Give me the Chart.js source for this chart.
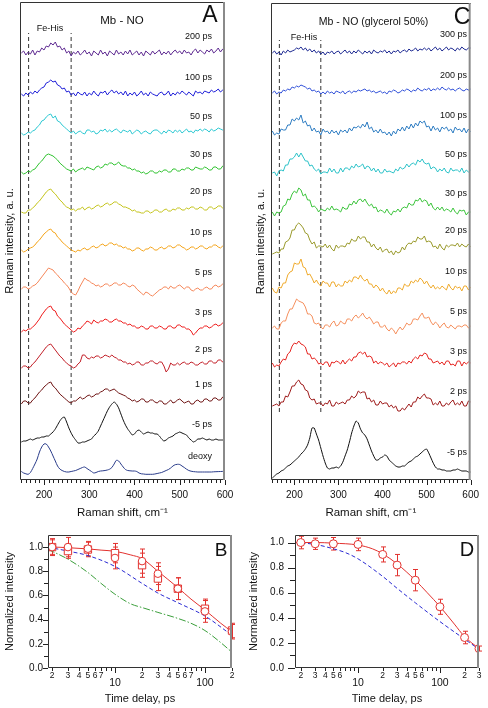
<!DOCTYPE html>
<html><head><meta charset="utf-8">
<script src="https://cdn.jsdelivr.net/npm/chart.js@4.4.1/dist/chart.umd.min.js"></script>
<style>
html,body{margin:0;padding:0;background:#fff;}
#wrap{position:relative;width:488px;height:708px;overflow:hidden;background:#fff;}
canvas{position:absolute;left:0;top:0;}
</style></head><body>
<div id="wrap">
<canvas id="cA" width="488" height="708"></canvas>
<canvas id="cC" width="488" height="708"></canvas>
<canvas id="cB" width="488" height="708"></canvas>
<canvas id="cD" width="488" height="708"></canvas>
</div>
<script>
const FONT = '"Liberation Sans", Arial, Helvetica, sans-serif';

// ---------- Raman spectra (panels A and C), Raman shift grid in cm-1 ----------
const SHIFT = [150,155,160,165,170,175,180,185,190,195, 200,205,210,215,220,225,230,235,240,245,
  250,255,260,265,270,275,280,285,290,295, 300,305,310,315,320,325,330,335,340,345,
  350,355,360,365,370,375,380,385,390,395, 400,405,410,415,420,425,430,435,440,445,
  450,455,460,465,470,475,480,485,490,495, 500,505,510,515,520,525,530,535,540,545,
  550,555,560,565,570,575,580,585,590,595, 600];
const SHIFT_TICKS = [200,300,400,500,600];
const SHIFT_MINOR = [150,160,170,180,190,210,220,230,240,250,260,270,280,290,310,320,330,340,350,360,370,380,390,410,420,430,440,450,460,470,480,490,510,520,530,540,550,560,570,580,590];
const FE_HIS = [166, 260];

// Panel A: Mb - NO
const A_LABELS = ['200 ps','100 ps','50 ps','30 ps','20 ps','10 ps','5 ps','3 ps','2 ps','1 ps','-5 ps','deoxy'];
const A_OFFSETS = [427,386,347,308,268,230,191,148,112,76,38,8];
const A_200 = [0,2,-2,1,-1,3,-2,2,1,5, 3,7,6,10,8,11,6,7,3,5, 0,2,-3,1,-1,2,-2,0,3,-1, 1,-3,2,0,-2,3,-1,1,-3,2,
  0,-2,3,-1,1,-2,2,-1,3,-2, 0,2,-2,1,-3,2,0,-2,2,-1, 1,3,-2,1,-1,2,-2,1,3,0, 2,-1,3,0,1,-2,2,4,0,3, 1,-1,3,1,4,0,2,5,1,4, 6];
const A_100 = [0,-2,1,-1,2,0,3,1,4,6, 7,11,12,14,12,13,9,8,5,6, 2,3,-1,1,-2,2,0,-1,2,-2, 1,-1,3,0,-2,2,1,3,-1,2,
  4,1,3,0,2,-1,3,-2,1,-1, 2,-2,0,3,-1,1,-2,2,0,-1, -2,1,2,-1,0,3,-2,1,-1,2, 0,3,1,-1,2,0,-2,3,1,2, 0,3,2,1,4,2,3,5,2,4, 6];
const A_50 = [0,-2,-1,1,0,2,3,6,8,12, 13,16,18,19,15,17,12,11,8,6, 4,2,0,2,-1,1,2,0,-1,3, 3,1,2,-1,0,3,2,4,1,3,
  1,3,4,2,0,3,2,1,3,-1, 1,3,2,-1,1,2,0,-1,2,3, 3,1,-1,2,0,3,2,0,3,1, 3,0,2,4,1,2,0,3,2,4, 2,4,3,1,4,2,3,5,4,3, 5];
const A_30 = [0,-2,-1,1,0,2,3,6,9,11, 14,17,18,17,16,14,12,9,7,5, 3,2,1,3,0,2,3,4,2,5, 4,3,2,5,6,4,5,8,7,9,
  9,7,8,10,7,6,6,4,4,2, 3,1,1,-1,0,-2,-1,1,1,-1, -1,1,0,2,2,0,0,3,3,1, 1,3,2,4,4,2,2,5,4,3, 3,5,4,2,2,5,5,3,3,6, 5];
const A_20 = [0,-1,-1,2,2,4,6,9,11,14, 17,20,22,23,20,18,15,12,10,7, 5,4,2,3,1,3,3,5,2,4, 5,3,4,6,7,5,6,8,9,7,
  8,10,10,8,7,5,5,4,3,1, 2,0,0,-1,-1,1,1,-1,0,2, 2,0,0,2,3,1,1,3,2,4, 4,2,2,4,3,5,5,3,3,5, 4,2,2,5,5,3,4,6,6,4, 5];
const A_10 = [0,-2,-1,1,2,3,5,8,10,13, 16,18,20,21,18,17,13,11,8,6, 4,2,0,-1,-2,0,-1,1,2,0, 1,3,4,2,3,5,6,4,5,7,
  7,5,6,4,4,2,3,1,1,-1, 0,2,2,0,-1,1,1,3,2,0, 0,2,3,1,2,4,4,2,3,5, 5,3,2,0,1,3,3,1,2,4, 4,2,1,3,3,5,5,3,2,4, 6];
const A_5 = [0,2,2,0,1,3,4,6,9,12, 15,18,21,20,19,16,14,11,9,6, 4,1,-3,-5,-6,-2,3,7,11,9, 8,6,5,3,4,2,3,5,5,3,
  4,6,6,4,4,6,5,3,2,4, 3,0,-2,-4,-6,-3,-4,-6,-7,-5, -3,-1,0,2,2,0,3,1,1,3, 4,2,0,2,2,-1,-2,0,1,-1, -1,1,2,0,0,3,4,2,3,5, 5];
const A_3 = [0,2,1,3,3,5,7,10,13,17, 20,23,25,26,22,21,16,14,11,8, 6,4,2,0,1,4,3,6,8,11, 10,8,12,10,9,11,11,13,12,10,
  10,12,13,11,11,9,9,7,8,6, 6,4,4,6,5,3,3,6,6,4, 4,6,5,3,3,6,6,4,4,7, 7,5,5,3,3,1,-3,-1,2,4, 4,6,6,4,5,7,8,6,7,9, 8];
const A_2 = [0,2,2,0,1,4,6,9,12,15, 18,21,23,24,21,18,15,12,10,7, 5,3,2,0,1,4,6,13,13,10, 9,11,10,12,12,10,11,13,12,11,
  13,11,10,8,8,6,6,4,5,3, 4,6,6,3,3,5,5,7,7,5, 4,6,6,2,-4,-1,5,3,3,5, 3,5,6,4,4,6,5,3,3,5, 6,4,4,7,7,5,5,8,8,6, 9];
const A_1 = [0,3,3,1,1,4,6,9,12,14, 17,19,21,22,18,16,13,10,8,6, 4,2,1,3,3,5,7,5,6,8, 9,7,8,10,10,12,13,15,15,13,
  14,15,13,11,10,9,8,6,5,3, 4,2,3,5,5,2,2,4,4,2, 1,3,3,0,0,2,4,1,2,4, 5,3,1,2,3,0,0,3,4,2, 2,5,5,3,3,6,6,4,4,7, 7];
const A_M5 = [0,1,1,2,3,2,3,4,4,5, 5,6,6,8,10,13,17,21,24,25, 20,14,9,5,2,-1,-1,0,0,1, 2,3,6,8,11,16,21,26,31,35,
  38,40,38,34,28,22,17,13,10,7, 8,11,12,10,8,9,10,9,9,8, 8,6,3,1,2,4,5,6,8,9, 10,9,8,7,4,2,0,1,3,3, 4,3,2,3,2,2,3,2,2,2, 2];
const A_DEOXY = [0.5,-1,-1.8,-2.3,-0.5,3.5,8,13,20,25, 28,28,25,21,16,11,6,3,1.5,0.5, 0,0,0.5,1,1.5,2.5,3.5,4.5,5,3.5,
  2,0.5,-1,-0.5,0.5,1,1.2,1.5,2,2.8, 4.5,8,11.7,11,8,5,2.5,1.5,1.2,1, 1,0.5,-1,-1.8,-2,-2.3,-2.3,-2.3,-2.3,-2,
  -1.5,-1,-0.5,0.5,1.5,2.5,4,6,7.3,7.7, 7.5,6,4.5,2.8,1.5,0.8,0.4,0.2,0,0, 0,0,0,0,0,0.2,0.3,0.4,0.5,0.6, 0.7];
const A_COLORS = ['#5e2a91','#1f1fd8','#2cc8d2','#2fc22f','#c4c41c','#f4a41a','#f5875a','#ee1c1c','#c21f28','#6e1313','#111111','#2a3c8a'];

// Panel C: Mb - NO (glycerol 50%)
const C_LABELS = ['300 ps','200 ps','100 ps','50 ps','30 ps','20 ps','10 ps','5 ps','3 ps','2 ps','-5 ps'];
const C_OFFSETS = [427,387,347,308,267,228,190,153,115,75,2];
const C_300 = [0,2,-1,1,-2,2,0,3,1,2, 3,5,4,6,3,5,2,4,1,3, 0,2,-1,1,-2,1,0,2,-1,1, 2,-1,1,3,0,2,-1,2,0,3,
  1,-1,2,0,2,-1,3,1,0,2, 1,3,0,2,-1,2,1,3,0,2, 3,1,4,2,3,5,2,4,3,5, 3,5,2,4,6,3,5,2,4,6, 3,5,4,2,5,3,6,4,3,5, 5];
const C_200 = [0,2,-1,1,0,3,2,4,3,6, 5,7,6,8,7,6,4,5,2,3, 1,2,-1,1,-1,2,0,1,-1,2, 1,0,2,-1,1,2,0,2,1,3,
  2,3,4,2,3,1,2,0,1,2, 0,1,-1,2,1,3,2,0,1,3, 2,4,3,1,3,2,5,3,2,4, 3,5,2,4,3,5,3,6,4,3, 5,3,4,2,4,5,3,2,4,3, 4];
const C_100 = [2,-2,0,-1,4,3,3,8,8,14, 12,15,13,18,10,12,7,8,2,5, 1,2,-2,4,1,2,-1,3,0,2, -2,3,1,3,0,5,2,6,5,7,
  5,9,6,11,4,6,1,3,0,4, 0,1,-2,1,-3,2,-1,4,2,6, 2,7,4,9,5,10,7,12,10,12, 6,7,2,7,3,5,1,6,4,6, 2,4,0,6,3,4,1,5,0,4, 1];
const C_50 = [-1,0,-4,1,2,1,7,7,13,13, 15,19,15,19,15,11,11,6,7,3, 1,3,-2,0,0,-1,4,0,3,-1, -1,4,0,4,4,2,6,4,8,5,
  6,8,3,6,5,1,4,0,3,-1, -1,3,0,1,0,-1,3,1,5,3, 4,8,5,8,9,7,12,10,13,9, 8,9,3,5,4,0,3,1,4,0, -1,4,1,2,2,0,4,-1,2,0, 2];
const C_30 = [1,-3,1,0,1,7,8,14,13,19, 22,20,25,23,17,19,13,13,6,7, 5,1,4,3,2,5,3,7,3,4, 3,1,6,4,4,9,8,12,9,13,
  14,11,14,10,7,9,5,6,1,3, 2,0,4,0,-2,2,1,4,1,5, 6,5,10,8,8,13,12,15,11,13, 12,7,10,5,3,6,3,6,2,4, 3,1,5,1,-1,3,2,3,-2,1, 1];
const C_20 = [-2,-1,0,-1,3,3,10,11,14,22, 22,27,29,27,24,19,18,12,8,10, 4,6,6,5,8,4,7,3,1,7, 4,6,6,5,9,8,13,11,11,16,
  13,15,15,10,10,5,8,4,2,5, 0,2,3,-1,1,-3,1,-1,0,5, 2,7,9,8,11,10,15,13,13,16, 10,11,10,5,6,3,8,4,2,7, 5,7,7,6,9,5,8,6,5,8, 5];
const C_10 = [2,-2,-3,3,2,7,7,15,18,19, 27,26,26,31,23,22,15,16,12,7, 10,6,4,9,7,7,3,8,8,3, 6,4,4,9,7,10,8,13,13,11,
  15,11,9,11,6,6,2,5,3,-1, 2,-2,-4,0,-4,-1,-3,2,2,0, 6,4,4,9,7,10,8,12,10,6, 9,5,2,5,1,3,1,4,2,0, 6,2,0,4,2,3,-1,4,4,0, 3];
const C_5 = [-1,1,-2,-2,4,6,6,13,18,18, 23,28,26,25,24,20,13,13,11,4, 3,4,0,-2,2,2,0,4,6,1, 2,6,4,3,8,8,6,10,12,9,
  11,14,10,8,10,7,3,5,5,0, 0,2,-2,-4,-1,-3,-7,-3,0,-3, 0,4,2,3,8,8,7,11,14,9, 9,10,5,2,5,3,-1,2,4,0, -1,2,0,-2,1,1,0,2,2,-1, 1];
const C_3 = [2,-2,0,-1,3,6,5,11,13,19, 22,21,24,21,20,18,11,11,6,7, 5,1,2,0,3,3,-2,3,2,4, 3,1,5,1,4,6,4,8,8,12,
  13,11,13,8,9,8,2,4,1,3, 2,0,2,-2,0,2,-2,2,1,3, 3,1,4,2,6,8,6,10,9,12, 11,6,6,2,3,4,1,3,0,4, 4,0,1,-1,4,4,-1,3,1,3, 2];
const C_2 = [-1,0,1,-1,3,3,9,8,13,19, 19,23,25,21,20,15,14,7,5,6, 1,2,2,-1,2,1,5,-1,-1,3, 1,2,3,1,5,5,9,7,9,14,
  12,13,13,6,7,3,5,0,0,4, 1,2,2,-2,0,-3,-1,-6,-6,-3, -5,-2,1,-2,3,3,8,6,9,11, 7,7,6,0,2,0,4,-1,-1,2, 0,3,5,0,2,0,4,-1,-1,4, 3];
const C_M5 = [0,2,4,5,7,8,10,12,13,15, 17,19,21,24,26,29,33,40,50,50, 44,38,30,22,15,10,9,10,10,11, 10,12,16,22,28,36,45,52,57,55,
  49,45,43,39,33,27,22,18,18,20, 21,23,22,18,16,14,12,11,11,12, 12,14,16,17,19,21,22,24,26,28, 29,25,20,15,11,9,9,8,8,7, 7,7,8,8,9,8,7,7,7,6, 6];
const C_COLORS = ['#1c2891','#3050d8','#2d7cc2','#2cc2c8','#3cc43c','#9a9a2c','#efaa2c','#f5905e','#e52420','#9e1a1a','#111111'];

// ---------- Kinetics (panels B and D) ----------
const B_T = [2,3,5,10,20,30,50,100,200];
const B_CIRCLE = [1.0,1.0,0.987,0.91,0.884,0.78,0.656,0.468,0.30];
const B_CIRCLE_ERR = [0.07,0.08,0.06,0.09,0.10,0.09,0.09,0.09,0.06];
const B_SQUARE = [1.0,0.967,0.98,0.95,0.85,0.74,0.656,0.49,0.31];
const B_SQUARE_ERR = [0.06,0.06,0.06,0.08,0.10,0.10,0.09,0.08,0.06];
const B_FIT_T = [1.8,2,3,5,7,10,15,20,30,50,70,100,150,200];
const B_FIT = [1.0,1.0,0.995,0.985,0.975,0.965,0.935,0.905,0.80,0.665,0.57,0.48,0.37,0.30];
const B_BLUE_T = [1.8,3,5,10,20,30,50,100,200];
const B_BLUE = [1.0,0.967,0.93,0.84,0.70,0.62,0.54,0.43,0.27];
const B_GREEN_T = [1.8,2,3,5,7,10,15,20,30,50,70,100,150,200];
const B_GREEN = [0.98,0.965,0.90,0.79,0.70,0.61,0.53,0.50,0.46,0.41,0.37,0.31,0.21,0.13];

const D_T = [2,3,5,10,20,30,50,100,200,300];
const D_CIRCLE = [1.0,0.99,0.99,0.985,0.905,0.82,0.70,0.488,0.243,0.155];
const D_CIRCLE_ERR = [0.05,0.045,0.05,0.05,0.06,0.085,0.085,0.06,0.05,0.02];
const D_FIT_T = [1.7,2,3,5,10,15,20,30,50,70,100,150,200,300];
const D_FIT = [1.0,1.0,1.0,0.995,0.98,0.95,0.91,0.83,0.70,0.60,0.49,0.35,0.25,0.155];
const D_BLUE_T = [1.7,3,5,7,10,20,30,50,100,200,300];
const D_BLUE = [1.0,0.985,0.95,0.92,0.87,0.73,0.635,0.52,0.37,0.23,0.15];

const Y_TICKS = [0,0.2,0.4,0.6,0.8,1.0];
const Y_MINOR = [0.1,0.3,0.5,0.7,0.9];
const B_XMINOR = [2,3,4,5,6,7,8,9,20,30,40,50,60,70,80,90,200];
const B_XMAJOR = [10,100];
const B_XMINOR_LABELS = [2,3,4,5,6,7,20,30,40,50,60,70,200];
const D_XMINOR = [2,3,4,5,6,7,8,9,20,30,40,50,60,70,80,90,200,300];
const D_XMAJOR = [10,100];
const D_XMINOR_LABELS = [2,3,4,5,6,20,30,40,50,60,200,300];

// ---------- helpers / plugins ----------
const RED = '#e2312e', BLUE = '#2a2ad2', GREEN = '#3a9e3a';

function framePlugin(rightColor, rightWidth) {
  return { id: 'frame', afterDatasetsDraw(chart) {
    const a = chart.chartArea, ctx = chart.ctx;
    ctx.save();
    ctx.strokeStyle = '#333'; ctx.lineWidth = 1;
    ctx.beginPath();
    ctx.moveTo(a.right, a.top + 0.5); ctx.lineTo(a.left + 0.5, a.top + 0.5);
    ctx.lineTo(a.left + 0.5, a.bottom - 0.5); ctx.lineTo(a.right, a.bottom - 0.5);
    ctx.stroke();
    ctx.strokeStyle = rightColor; ctx.lineWidth = rightWidth;
    ctx.beginPath(); ctx.moveTo(a.right - rightWidth / 2, a.top); ctx.lineTo(a.right - rightWidth / 2, a.bottom); ctx.stroke();
    ctx.restore();
  }};
}
function tickPlugin(marks) {
  return { id: 'tickMarks', afterDraw(chart) {
    const ctx = chart.ctx, a = chart.chartArea;
    ctx.save(); ctx.strokeStyle = '#222'; ctx.lineWidth = 1;
    marks.forEach(m => {
      const s = chart.scales[m.axis];
      m.values.forEach(v => {
        const p = Math.round(s.getPixelForValue(v)) + 0.5;
        ctx.beginPath();
        if (m.axis === 'x') { ctx.moveTo(p, a.bottom); ctx.lineTo(p, a.bottom + m.len); }
        else { ctx.moveTo(a.left, p); ctx.lineTo(a.left - m.len, p); }
        ctx.stroke();
      });
    });
    ctx.restore();
  }};
}
function textPlugin(items) {
  return { id: 'texts', afterDraw(chart) {
    const ctx = chart.ctx;
    ctx.save(); ctx.textBaseline = 'middle';
    items.forEach(it => {
      ctx.font = it.s + 'px ' + FONT;
      ctx.fillStyle = it.c || '#111';
      ctx.textAlign = it.a || 'center';
      ctx.fillText(it.t, it.x, it.y);
    });
    ctx.restore();
  }};
}
function logLabelPlugin(minorVals, majorVals) {
  return { id: 'logLabels', afterDraw(chart) {
    const ctx = chart.ctx, s = chart.scales.x, b = chart.chartArea.bottom;
    ctx.save(); ctx.textBaseline = 'middle'; ctx.textAlign = 'center'; ctx.fillStyle = '#111';
    ctx.font = '8.5px ' + FONT;
    minorVals.forEach(v => ctx.fillText(String(v).charAt(0), s.getPixelForValue(v), b + 8));
    ctx.font = '10.5px ' + FONT;
    majorVals.forEach(v => ctx.fillText(String(v), s.getPixelForValue(v), b + 15));
    ctx.restore();
  }};
}
const errorBarPlugin = { id: 'errorBars', beforeDatasetsDraw(chart) {
  const ctx = chart.ctx, ys = chart.scales.y;
  ctx.save(); ctx.strokeStyle = RED; ctx.lineWidth = 1;
  chart.data.datasets.forEach((ds, i) => {
    if (!ds.errorBars) return;
    const meta = chart.getDatasetMeta(i);
    meta.data.forEach((pt, j) => {
      const v = ds.data[j].y, e = ds.errorBars[j];
      const x = Math.round(pt.x) + 0.5, t = ys.getPixelForValue(v + e), bt = ys.getPixelForValue(v - e);
      ctx.beginPath();
      ctx.moveTo(x, t); ctx.lineTo(x, bt);
      ctx.moveTo(x - 2.5, t); ctx.lineTo(x + 2.5, t);
      ctx.moveTo(x - 2.5, bt); ctx.lineTo(x + 2.5, bt);
      ctx.stroke();
    });
  });
  ctx.restore();
}};

function spectrum(vals, off, color, tension) {
  return { data: SHIFT.map((x, i) => ({ x: x, y: vals[i] + off })), borderColor: color, borderWidth: 1,
           pointRadius: 0, tension: tension, fill: false };
}
function dashLine(x, y0, y1) {
  return { data: [{ x: x, y: y0 }, { x: x, y: y1 }], borderColor: '#333', borderWidth: 1, borderDash: [4, 3], pointRadius: 0, fill: false };
}
function xy(xs, ys) { return xs.map((x, i) => ({ x: x, y: ys[i] })); }

const baseOpts = { responsive: false, animation: false, events: [], maintainAspectRatio: false };
const noPlug = { legend: { display: false }, tooltip: { enabled: false } };

function spectraChart(id, spectra, offsets, colors, tensions, pad, ymax, dashY, texts) {
  const ds = spectra.map((s, i) => spectrum(s, offsets[i], colors[i], tensions[i] || 0));
  FE_HIS.forEach(x => ds.push(dashLine(x, dashY[0], dashY[1])));
  return new Chart(document.getElementById(id), {
    type: 'line',
    data: { datasets: ds },
    options: Object.assign({}, baseOpts, {
      layout: { padding: pad },
      plugins: noPlug,
      scales: {
        x: { type: 'linear', min: 147, max: 600,
             grid: { display: false, drawTicks: false }, border: { display: false },
             afterBuildTicks: s => { s.ticks = SHIFT_TICKS.map(v => ({ value: v })); },
             ticks: { font: { family: FONT, size: 10 }, color: '#111', padding: 9, maxRotation: 0, autoSkip: false },
             title: { display: true, text: 'Raman shift, cm⁻¹', font: { family: FONT, size: 11.5 }, color: '#111', padding: { top: 0, bottom: 0 } },
             afterFit: s => { s.height = 40; } },
        y: { min: 0, max: ymax,
             grid: { display: false, drawTicks: false }, border: { display: false },
             ticks: { display: false },
             title: { display: true, text: 'Raman intensity, a. u.', font: { family: FONT, size: 11 }, color: '#111', padding: { top: 3, bottom: 0 } },
             afterFit: s => { s.width = 20; } }
      }
    }),
    plugins: [framePlugin('#8a8a8a', 2), tickPlugin([{ axis: 'x', values: SHIFT_TICKS, len: 5 }, { axis: 'x', values: SHIFT_MINOR, len: 3 }]), textPlugin(texts)]
  });
}

// ---- Panel A ----
const A_SPECTRA = [A_200, A_100, A_50, A_30, A_20, A_10, A_5, A_3, A_2, A_1, A_M5, A_DEOXY];
const A_TENSION = [0,0,0,0,0,0,0,0,0,0,0.15,0.3];
const A_LABEL_Y = [37, 78, 117, 155, 192, 233, 273, 313, 350, 385, 425, 457];
const A_TEXTS = [
  { t: 'Mb - NO', x: 122, y: 21, s: 11.5 },
  { t: 'Fe-His', x: 50, y: 29, s: 9 },
  { t: 'A', x: 210, y: 16, s: 23 }
].concat(A_LABELS.map((l, i) => ({ t: l, x: 212, y: A_LABEL_Y[i], s: 9, a: 'right' })));
spectraChart('cA', A_SPECTRA, A_OFFSETS, A_COLORS, A_TENSION, { left: 0, right: 263, top: 2, bottom: 188 }, 478, [75, 447], A_TEXTS);

// ---- Panel C ----
const C_SPECTRA = [C_300, C_200, C_100, C_50, C_30, C_20, C_10, C_5, C_3, C_2, C_M5];
const C_TENSION = [0,0,0,0,0,0,0,0,0,0,0.15];
const C_LABEL_Y = [35, 75.5, 116, 154.5, 193.5, 230.5, 271.5, 311.5, 351.5, 391.5, 452.5];
const C_TEXTS = [
  { t: 'Mb - NO (glycerol 50%)', x: 373.5, y: 22.5, s: 10.5 },
  { t: 'Fe-His', x: 304, y: 37.5, s: 9 },
  { t: 'C', x: 462, y: 18, s: 23 }
].concat(C_LABELS.map((l, i) => ({ t: l, x: 467, y: C_LABEL_Y[i], s: 9, a: 'right' })));
spectraChart('cC', C_SPECTRA, C_OFFSETS, C_COLORS, C_TENSION, { left: 251, right: 12, top: 3, bottom: 188 }, 477, [68, 440], C_TEXTS);

// ---- kinetics charts ----
function kineticsChart(id, datasets, xmin, xmax, ymax, pad, yWidth, yPad, tickLens, xminor, xmajor, minorLabels, letter) {
  return new Chart(document.getElementById(id), {
    type: 'line',
    data: { datasets: datasets },
    options: Object.assign({}, baseOpts, {
      layout: { padding: pad },
      plugins: noPlug,
      scales: {
        x: { type: 'logarithmic', min: xmin, max: xmax,
             grid: { display: false, drawTicks: false }, border: { display: false },
             ticks: { display: false },
             title: { display: true, text: 'Time delay, ps', font: { family: FONT, size: 11 }, color: '#111', padding: { top: 0, bottom: 2 } },
             afterFit: s => { s.height = 40; } },
        y: { min: 0, max: ymax,
             grid: { display: false, drawTicks: false }, border: { display: false },
             afterBuildTicks: s => { s.ticks = Y_TICKS.map(v => ({ value: v })); },
             ticks: { font: { family: FONT, size: 10 }, color: '#111', padding: yPad, callback: v => Number(v).toFixed(1) },
             title: { display: true, text: 'Normalized intensity', font: { family: FONT, size: 11 }, color: '#111', padding: { top: 3, bottom: 0 } },
             afterFit: s => { s.width = yWidth; } }
      }
    }),
    plugins: [errorBarPlugin, framePlugin('#8a8a8a', 2),
      tickPlugin([{ axis: 'y', values: Y_TICKS, len: tickLens[0] }, { axis: 'y', values: Y_MINOR, len: tickLens[1] },
                  { axis: 'x', values: xmajor, len: 5 }, { axis: 'x', values: xminor, len: 3 }]),
      logLabelPlugin(minorLabels, xmajor), textPlugin([letter])]
  });
}
const markerCommon = { showLine: false, pointBorderColor: RED, pointBackgroundColor: '#fff', pointBorderWidth: 1, borderColor: RED };

kineticsChart('cB', [
  Object.assign({ data: xy(B_T, B_CIRCLE), errorBars: B_CIRCLE_ERR, pointStyle: 'circle', pointRadius: 3.8 }, markerCommon),
  Object.assign({ data: xy(B_T, B_SQUARE), errorBars: B_SQUARE_ERR, pointStyle: 'rect', pointRadius: 5.2 }, markerCommon),
  { data: xy(B_FIT_T, B_FIT), borderColor: RED, borderWidth: 1, pointRadius: 0, cubicInterpolationMode: 'monotone' },
  { data: xy(B_BLUE_T, B_BLUE), borderColor: BLUE, borderWidth: 1, borderDash: [4, 2.5], pointRadius: 0, cubicInterpolationMode: 'monotone' },
  { data: xy(B_GREEN_T, B_GREEN), borderColor: GREEN, borderWidth: 1, borderDash: [7, 2, 1.5, 2], pointRadius: 0, cubicInterpolationMode: 'monotone' }
], 1.8, 200, 1.1, { left: 0, right: 256, top: 535, bottom: 0 }, 48, 5, [5, 4], B_XMINOR, B_XMAJOR, B_XMINOR_LABELS,
  { t: 'B', x: 221, y: 551, s: 19 });

kineticsChart('cD', [
  Object.assign({ data: xy(D_T, D_CIRCLE), errorBars: D_CIRCLE_ERR, pointStyle: 'circle', pointRadius: 4 }, markerCommon),
  { data: xy(D_FIT_T, D_FIT), borderColor: RED, borderWidth: 1, pointRadius: 0, cubicInterpolationMode: 'monotone' },
  { data: xy(D_BLUE_T, D_BLUE), borderColor: BLUE, borderWidth: 1, borderDash: [4, 2.5], pointRadius: 0, cubicInterpolationMode: 'monotone' }
], 1.7, 300, 1.06, { left: 244, right: 9, top: 535, bottom: 0 }, 51, 11, [7, 5], D_XMINOR, D_XMAJOR, D_XMINOR_LABELS,
  { t: 'D', x: 467, y: 550, s: 20 });
</script>
</body></html>
